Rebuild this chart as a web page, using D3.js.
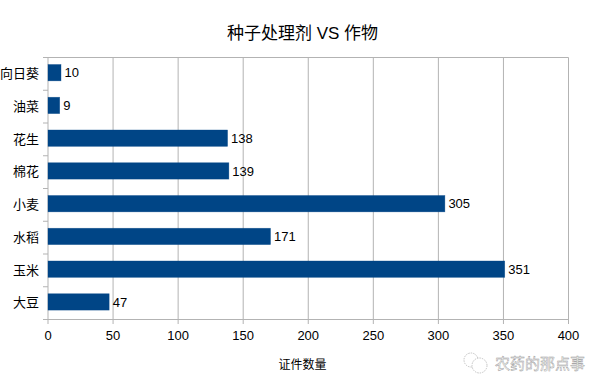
<!DOCTYPE html>
<html><head><meta charset="utf-8">
<script src="https://cdnjs.cloudflare.com/ajax/libs/d3/7.8.5/d3.min.js"></script>
<style>html,body{margin:0;padding:0;background:#fff}svg{display:block}
text{font-family:"Liberation Sans","Noto Sans CJK SC",sans-serif;fill:#000}</style>
</head><body><svg id="c" width="604" height="391"></svg>
<script>
const categories = ["向日葵","油菜","花生","棉花","小麦","水稻","玉米","大豆"];
const values = [10,9,138,139,305,171,351,47];
const xTicks = [0,50,100,150,200,250,300,350,400];
const titleText = "种子处理剂 VS 作物";
const xTitle = "证件数量";
const watermark = "农药的那点事";

const svg = d3.select("#c");
const grey = "#b3b3b3", blue = "#004586";
const x = d3.scaleLinear().domain([0,400]).range([48,568.5]);
const y = d3.scaleBand().domain(categories).range([56.3,318.3]).paddingInner(0.5).paddingOuter(0.25);

svg.append("text").attr("x",302.5).attr("y",38.5).attr("text-anchor","middle")
  .attr("font-size",17).text(titleText);

// grid lines
svg.append("g").selectAll("line").data(xTicks).join("line")
  .attr("x1",d=>x(d)).attr("x2",d=>x(d)).attr("y1",57.5).attr("y2",324)
  .attr("stroke",grey).attr("stroke-width",1);

// category axis
const bounds = d3.range(categories.length+1).map(i=>57.5+i*(319.5-57.5)/categories.length);
svg.append("g").selectAll("line").data(bounds).join("line")
  .attr("x1",43).attr("x2",48).attr("y1",d=>d).attr("y2",d=>d)
  .attr("stroke",grey);
svg.append("line").attr("x1",43).attr("x2",568.5).attr("y1",57.5).attr("y2",57.5).attr("stroke",grey);
svg.append("line").attr("x1",43).attr("x2",568.5).attr("y1",319.5).attr("y2",319.5).attr("stroke",grey);

// bars
svg.append("g").selectAll("rect").data(values).join("rect")
  .attr("x",x(0)).attr("y",(d,i)=>y(categories[i]))
  .attr("width",d=>x(d)-x(0)).attr("height",y.bandwidth())
  .attr("fill",blue).attr("stroke","#004586").attr("stroke-opacity",0.55).attr("stroke-width",0.6);

// value labels
svg.append("g").selectAll("text").data(values).join("text")
  .attr("x",d=>x(d)+3.5).attr("y",(d,i)=>y(categories[i])+y.bandwidth()/2+4.8)
  .attr("font-size",13).text(d=>d);

// category labels
svg.append("g").selectAll("text").data(categories).join("text")
  .attr("x",39).attr("y",d=>y(d)+y.bandwidth()/2+5.5)
  .attr("text-anchor","end").attr("font-size",13).text(d=>d);

// x tick labels
svg.append("g").selectAll("text").data(xTicks).join("text")
  .attr("x",d=>x(d)).attr("y",340).attr("text-anchor","middle")
  .attr("font-size",13).text(d=>d);

svg.append("text").attr("x",302.5).attr("y",368.5).attr("text-anchor","middle")
  .attr("font-size",12).text(xTitle);

// watermark
const wm = svg.append("g");
wm.append("text").attr("x",495).attr("y",369).attr("font-size",15)
  .style("fill","#fff").attr("stroke","#999").attr("stroke-width",0.45).text(watermark);
const ic = wm.append("g").attr("fill","#fff").attr("stroke","#aaa").attr("stroke-width",0.7).attr("stroke-dasharray","1.5 1");
ic.append("circle").attr("cx",471).attr("cy",360).attr("r",7);
ic.append("circle").attr("cx",479.5).attr("cy",365.5).attr("r",7.5);
</script></body></html>
